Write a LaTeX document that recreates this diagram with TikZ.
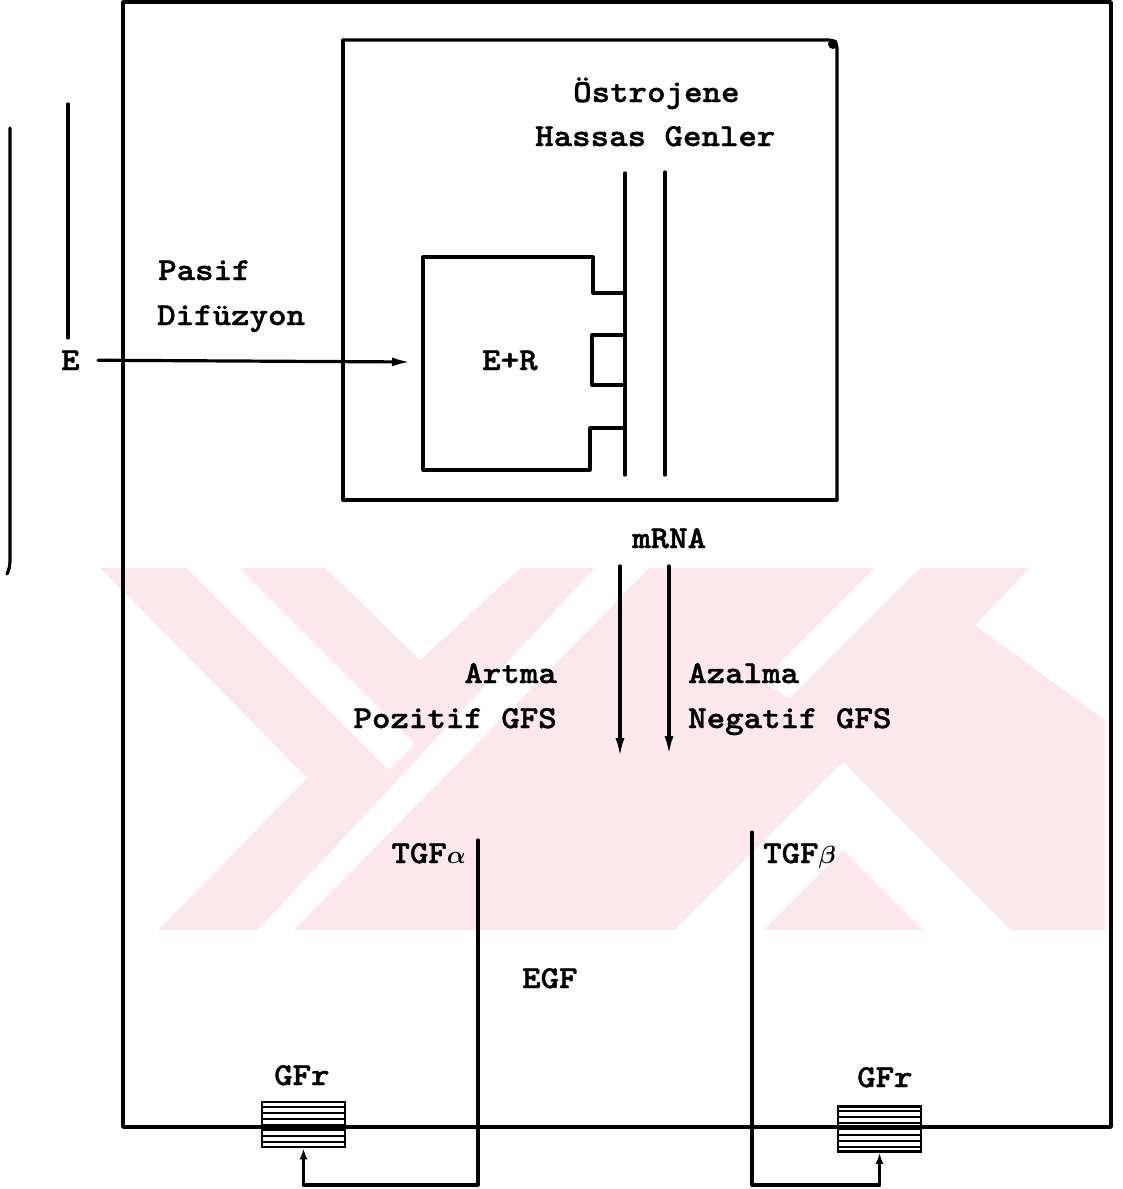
\documentclass[tikz,border=0pt]{standalone}
\usepackage{fontspec}
\newfontfamily\tw{lmmonolt10-bold}[Extension=.otf,FakeStretch=1.1,FakeBold=1.2]
\usetikzlibrary{arrows.meta,calc}
\definecolor{wm}{RGB}{252,231,236}
\tikzset{
  ln/.style={line width=3.2pt, line cap=round, line join=round},
  lbl/.style={font=\tw\fontsize{32}{32}\selectfont, inner sep=0pt},
  bigarrow/.style={ln, -{Latex[length=19pt,width=9pt]}},
  smallarrow/.style={ln, -{Latex[length=11pt,width=8pt]}},
  gfrbox/.style={draw, line width=2.6pt, rectangle, minimum width=83pt, minimum height=45pt, inner sep=0pt},
  hatch/.style={line width=2pt},
}
\begin{document}
\begin{tikzpicture}[x=1pt,y=-1pt]
\useasboundingbox (0,0) rectangle (1123,1189);
% watermark
\begin{scope}
\clip (100,568) rectangle (1105,930);
\fill[wm] (100,568) rectangle (1105,930);
\fill[white] (100,568) -- (307,778) -- (158,930) -- (100,930) -- cycle;
\fill[white] (187,568) -- (239,568) -- (415,744) -- (389,770) -- cycle;
\fill[white] (326,568) -- (520,568) -- (420,660) -- cycle;
\fill[white] (595,568) -- (649,568) -- (294,930) -- (258,930) -- cycle;
\fill[white] (675,930) -- (843,762) -- (1011,930) -- (923,930) -- (843,850) -- (763,930) -- cycle;
\fill[white] (875,568) -- (920,568) -- (790,698) -- (762,681) -- cycle;
\fill[white] (1030,568) -- (1105,568) -- (1105,720) -- (975,625) -- cycle;
\end{scope}

% outer cell
\draw[ln, line width=3.4pt] (123,2) rectangle (1111,1127);
% outside lines
\draw[ln] (10,128) -- (10,560) .. controls (10,566) and (9,570) .. (7,574);
\draw[ln] (68,104) -- (68,338);

% nucleus
\draw[ln, rounded corners=8pt] (343,40) -- (837,40) -- (837,500);
\draw[ln] (837,500) -- (343,500) -- (343,40);
\fill (833,44) circle (5pt);

\node[lbl, anchor=base west] (ostro) at (573,102) {Östrojene};
\node[lbl, anchor=base west] (hassas) at (535,146) {Hassas Genler};
\coordinate (g1t) at (625,173); \coordinate (g1b) at (625,475);
\coordinate (g2t) at (665,172); \coordinate (g2b) at (665,475);
\draw[ln] (g1t) -- (g1b);
\draw[ln] (g2t) -- (g2b);

% E+R receptor
\draw[ln] (625,293) -- (593,293) -- (593,257) -- (423,257) -- (423,470) -- (590,470) -- (590,428) -- (623,428);
\draw[ln] (623,335) -- (592,335) -- (592,385) -- (623,385);
\node[lbl, anchor=base west] (er) at (482,370) {E+R};

% E and diffusion
\node[lbl, anchor=base west] (E) at (61,370) {E};
\coordinate (erin) at (411,362);
\draw[bigarrow] ([xshift=18pt]E.east) -- (erin);
\node[lbl, anchor=base west] (pasif) at (158,280) {Pasif};
\node[lbl, anchor=base west] (difuzyon) at (157,325) {Difüzyon};

% mRNA
\node[lbl, anchor=base west] (mrna) at (632,548) {mRNA};
\coordinate (a1t) at (620,566); \coordinate (a1b) at (620,757);
\coordinate (a2t) at (669,566); \coordinate (a2b) at (669,755);
\draw[bigarrow] (a1t) -- (a1b);
\draw[bigarrow] (a2t) -- (a2b);
\node[lbl, anchor=base east] (artma) at (557,683) {Artma};
\node[lbl, anchor=base east] (pozitif) at (557,728) {Pozitif GFS};
\node[lbl, anchor=base west] (azalma) at (688,683) {Azalma};
\node[lbl, anchor=base west] (negatif) at (688,728) {Negatif GFS};

% growth factors
\node[lbl, anchor=base east] (tgfa) at (466,863) {TGF{\boldmath$\alpha$}};
\node[lbl, anchor=base west] (tgfb) at (763,863) {TGF{\boldmath$\beta$}};
\node[lbl, anchor=base west] (egf) at (522,988) {EGF};

\node[gfrbox] (boxL) at (303.5,1124.5) {};
\node[gfrbox] (boxR) at (879.5,1129) {};
\foreach \k in {1,...,7} {
  \draw[hatch] ($(boxL.north west)!\k/8!(boxL.south west)$) -- ($(boxL.north east)!\k/8!(boxL.south east)$);
  \draw[hatch] ($(boxR.north west)!\k/8!(boxR.south west)$) -- ($(boxR.north east)!\k/8!(boxR.south east)$);
}
\node[lbl, anchor=base west] (gfrL) at (274,1085) {GFr};
\node[lbl, anchor=base west] (gfrR) at (857,1087) {GFr};

\coordinate (aTop) at (478,840); \coordinate (aBot) at (478,1185);
\coordinate (bTop) at (752,832); \coordinate (bBot) at (752,1185);
\draw[smallarrow] (aTop) -- (aBot) -| (boxL.south);
\draw[smallarrow] (bTop) -- (bBot) -| (boxR.south);
\end{tikzpicture}
\end{document}
